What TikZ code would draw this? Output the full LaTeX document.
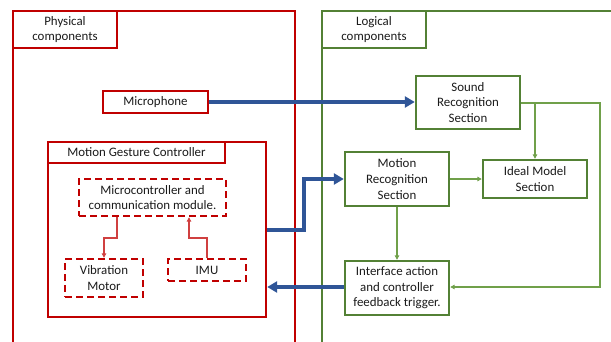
\documentclass[tikz,border=0pt]{standalone}
\usepackage{fontspec}
\setmainfont{Carlito}
\usetikzlibrary{arrows.meta}
\definecolor{rd}{HTML}{C00000}
\definecolor{lrd}{HTML}{D04040}
\definecolor{gr}{HTML}{538135}
\definecolor{lgr}{HTML}{70A04A}
\definecolor{bl}{HTML}{2F5597}
\definecolor{txt}{HTML}{1A1A1A}
\tikzset{
  box/.style={draw, line width=2.4pt, inner sep=0pt, align=center, text=txt,
    font=\fontsize{12.9}{15.6}\selectfont},
  redbox/.style={box, draw=rd},
  greenbox/.style={box, draw=gr},
  dashbox/.style={redbox, dash pattern=on 7pt off 4pt},
  frame/.style={draw, line width=2.4pt, inner sep=0pt},
  bigarrow/.style={draw=bl, line width=3.4pt, -{Triangle[length=10pt,width=11pt]}},
  thinred/.style={draw=lrd, line width=1.4pt, -{Triangle[length=4.5pt,width=4.5pt]}},
  thingreen/.style={draw=lgr, line width=1.4pt, -{Triangle[length=4.5pt,width=4.5pt]}},
}
\begin{document}
\begin{tikzpicture}[x=1pt,y=-1pt]
\useasboundingbox (0,0) rectangle (611,341);
\begin{scope}
\clip (0,0) rectangle (611,341);
\node[frame, draw=rd, minimum width=282pt, minimum height=340pt] (phys) at (154,181) {};
\node[frame, draw=gr, minimum width=300pt, minimum height=340pt] (logi) at (472,181) {};
\end{scope}
\node[redbox, minimum width=104pt, minimum height=37pt] (physlbl) at (65,29.5) {Physical\\components};
\node[greenbox, minimum width=104pt, minimum height=37pt] (logilbl) at (374,29.5) {Logical\\components};

\node[redbox, minimum width=105pt, minimum height=22pt] (mic) at (155.5,102) {Microphone};
\node[redbox, minimum width=218pt, minimum height=175pt] (mgc) at (157,229.5) {};
\node[redbox, minimum width=177pt, minimum height=21pt] (mgclbl) at (136.5,152.5) {Motion Gesture Controller};
\node[dashbox, minimum width=147pt, minimum height=37pt] (micro) at (152.5,197.5) {Microcontroller and\\communication module.};
\node[dashbox, minimum width=78pt, minimum height=38pt] (vib) at (104,278) {Vibration\\Motor};
\node[dashbox, minimum width=78pt, minimum height=22pt] (imu) at (207,270) {IMU};

\node[greenbox, minimum width=104pt, minimum height=53pt] (sound) at (468,102.5) {Sound\\Recognition\\Section};
\node[greenbox, minimum width=104pt, minimum height=54pt] (motion) at (397,179) {Motion\\Recognition\\Section};
\node[greenbox, minimum width=104pt, minimum height=38pt] (ideal) at (535,179) {Ideal Model\\Section};
\node[greenbox, minimum width=104pt, minimum height=54pt] (iface) at (397,288) {Interface action\\and controller\\feedback trigger.};

% blue arrows
\draw[bigarrow] (mic.east) -- (sound.west |- mic.east);
\draw[bigarrow] (mgc.east |- 0,230) -- (304,230) |- (motion.west);
\draw[bigarrow] (iface.west |- 0,287) -- (mgc.east |- 0,287);

% thin red
\draw[thinred] (micro.south -| 117,0) |- (104,238) -- (vib.north);
\draw[thinred] (imu.north) |- (189,238) -- (micro.south -| 189,0);

% thin green
\draw[thingreen] (sound.east |- 0,103) -| (600,287) -- (iface.east |- 0,287);
\draw[thingreen] (535,103) -- (ideal.north);
\draw[thingreen] (motion.east) -- (ideal.west);
\draw[thingreen] (motion.south) -- (iface.north);
\end{tikzpicture}
\end{document}
